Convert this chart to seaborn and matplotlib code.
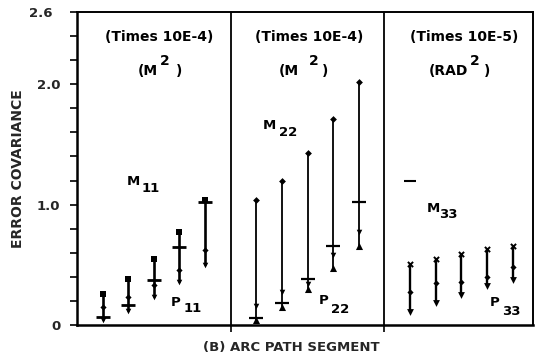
import numpy as np
import pandas as pd
import matplotlib
matplotlib.use("Agg")
import matplotlib.pyplot as plt
from matplotlib.transforms import ScaledTranslation
import seaborn as sns

# ---------------- data ----------------
segments = [1, 2, 3, 4, 5]
panel_offsets = [0, 6, 12]

# panel 1 (M11 / P11), Times 10E-4, M^2
p1_top = [0.26, 0.38, 0.55, 0.775, 1.04]
p1_dash = [0.07, 0.17, 0.37, 0.65, 1.02]
p1_mid = [0.15, 0.23, 0.33, 0.46, 0.62]
p1_bottom = [0.04, 0.12, 0.235, 0.36, 0.50]

# panel 2 (M22 / P22), Times 10E-4, M^2
p2_top = [1.04, 1.20, 1.43, 1.71, 2.02]
p2_dash = [0.06, 0.18, 0.38, 0.66, 1.02]
p2_mid = [0.16, 0.27, 0.34, 0.58, 0.77]
p2_bottom = [0.04, 0.15, 0.30, 0.47, 0.66]

# panel 3 (M33 / P33), Times 10E-5, RAD^2
p3_top = [0.51, 0.55, 0.59, 0.63, 0.66]
p3_mid = [0.27, 0.35, 0.36, 0.40, 0.48]
p3_bottom = [0.11, 0.18, 0.25, 0.32, 0.37]
p3_lone_dash = [1.20]

y_ticks = [0, 1.0, 2.0, 2.6]
y_tick_labels = ["0", "1.0", "2.0", "2.6"]
headers = ["(Times 10E-4)", "(Times 10E-4)", "(Times 10E-5)"]

# ---------------- build table ----------------
rows = []
for k, off in enumerate(panel_offsets):
    for kind, vals in [("top", [p1_top, p2_top, p3_top][k]),
                       ("dash", [p1_dash, p2_dash, None][k]),
                       ("mid", [p1_mid, p2_mid, p3_mid][k]),
                       ("bottom", [p1_bottom, p2_bottom, p3_bottom][k])]:
        if vals is None:
            continue
        for s, v in zip(segments, vals):
            rows.append(dict(panel=k, seg=s, x=s + off, kind=kind, value=v))
for v in p3_lone_dash:
    rows.append(dict(panel=2, seg=1, x=segments[0] + panel_offsets[2], kind="lone", value=v))
df = pd.DataFrame(rows)

# ---------------- plot ----------------
sns.set_theme(style="white")
plt.rcParams["font.family"] = ["DejaVu Sans"]
plt.rcParams["font.weight"] = "bold"

fig = plt.figure(figsize=(5.45, 3.58), dpi=100)
ax = fig.add_axes([0.1413, 0.0922, 0.8367, 0.8743])

# vertical lines from top to bottom of each column
wide = df[df.kind.isin(["top", "bottom"])].pivot_table(index=["panel", "x"], columns="kind", values="value").reset_index()
for k in range(3):
    sub = wide[wide.panel == k]
    ax.vlines(sub["x"], sub["bottom"], sub["top"], color="black",
              lw=[1.9, 1.3, 1.7][k], zorder=2)

marker_spec = {
    (0, "top"): dict(marker="s", s=24),
    (0, "dash"): dict(marker="_", s=95, linewidth=2.0),
    (0, "mid"): dict(marker="D", s=10),
    (0, "bottom"): dict(marker="v", s=16),
    (1, "top"): dict(marker="D", s=12),
    (1, "dash"): dict(marker="_", s=100, linewidth=1.6),
    (1, "mid"): dict(marker="v", s=16),
    (1, "bottom"): dict(marker="^", s=26),
    (2, "top"): dict(marker="x", s=14, linewidth=1.4),
    (2, "mid"): dict(marker="D", s=10),
    (2, "bottom"): dict(marker="v", s=24),
    (2, "lone"): dict(marker="_", s=75, linewidth=1.5),
}
for (k, kind), spec in marker_spec.items():
    sub = df[(df.panel == k) & (df.kind == kind)]
    spec = dict(spec)
    lw = spec.pop("linewidth", 0)
    sns.scatterplot(data=sub, x="x", y="value", color="black", ax=ax,
                    edgecolor="black", linewidth=lw, zorder=3, legend=False, **spec)

# panel dividers
for xd in [6, 12]:
    ax.axvline(xd, color="black", lw=1.3, zorder=1)

ax.set_xlim(0, 17.8)
ax.set_ylim(0, 2.6)
ax.set_yticks(y_ticks)
ax.set_yticklabels(y_tick_labels, fontsize=9.5, fontweight="bold")
ax.set_yticks(np.arange(0, 2.61, 0.2), minor=True)
ax.tick_params(axis="y", which="both", direction="out", length=5, width=1.2,
               left=True, color="black", pad=7)
# the top label sits a little further left in the original
top_lbl = ax.get_yticklabels()[-1]
top_lbl.set_transform(top_lbl.get_transform() + ScaledTranslation(-0.08, 0, fig.dpi_scale_trans))
ax.set_xticks([6, 12])
ax.set_xticklabels([])
ax.tick_params(axis="x", which="major", direction="out", length=5, width=1.2,
               bottom=True, color="black")
for sp in ax.spines.values():
    sp.set_color("black")
    sp.set_linewidth(1.4)
ax.spines["left"].set_linewidth(1.8)
ax.spines["bottom"].set_linewidth(1.8)

ax.set_xlabel("(B) ARC PATH SEGMENT", fontsize=9.5, fontweight="bold")
ax.xaxis.set_label_coords(0.47, -0.05)
ax.set_ylabel("ERROR COVARIANCE", fontsize=10, fontweight="bold")
ax.yaxis.set_label_coords(-0.114, 0.5)
ax.grid(False)

fs = 10
tk = dict(ha="center", va="center", fontsize=fs, fontweight="bold", color="black")
# headers
for hx, h in zip([3.22, 9.06, 15.1], headers):
    ax.text(hx, 2.39, h, **tk)
# units
ax.text(2.75, 2.11, "(M", **tk); ax.text(3.42, 2.19, "2", **tk); ax.text(3.98, 2.11, ")", **tk)
ax.text(8.26, 2.11, "(M", **tk); ax.text(9.25, 2.19, "2", **tk); ax.text(9.68, 2.11, ")", **tk)
ax.text(14.5, 2.11, "(RAD", **tk); ax.text(15.53, 2.19, "2", **tk); ax.text(16.02, 2.11, ")", **tk)
# labels
lab = dict(tk, fontsize=9.5)
ax.text(2.19, 1.196, "M", **lab); ax.text(2.89, 1.13, "11", **lab)
ax.text(3.83, 0.19, "P", **lab); ax.text(4.53, 0.14, "11", **lab)
ax.text(7.52, 1.66, "M", **lab); ax.text(8.24, 1.60, "22", **lab)
ax.text(9.61, 0.20, "P", **lab); ax.text(10.27, 0.13, "22", **lab)
ax.text(13.9, 0.97, "M", **lab); ax.text(14.5, 0.92, "33", **lab)
ax.text(16.29, 0.19, "P", **lab); ax.text(16.95, 0.11, "33", **lab)

fig.savefig("out.png", dpi=100, facecolor="white")
